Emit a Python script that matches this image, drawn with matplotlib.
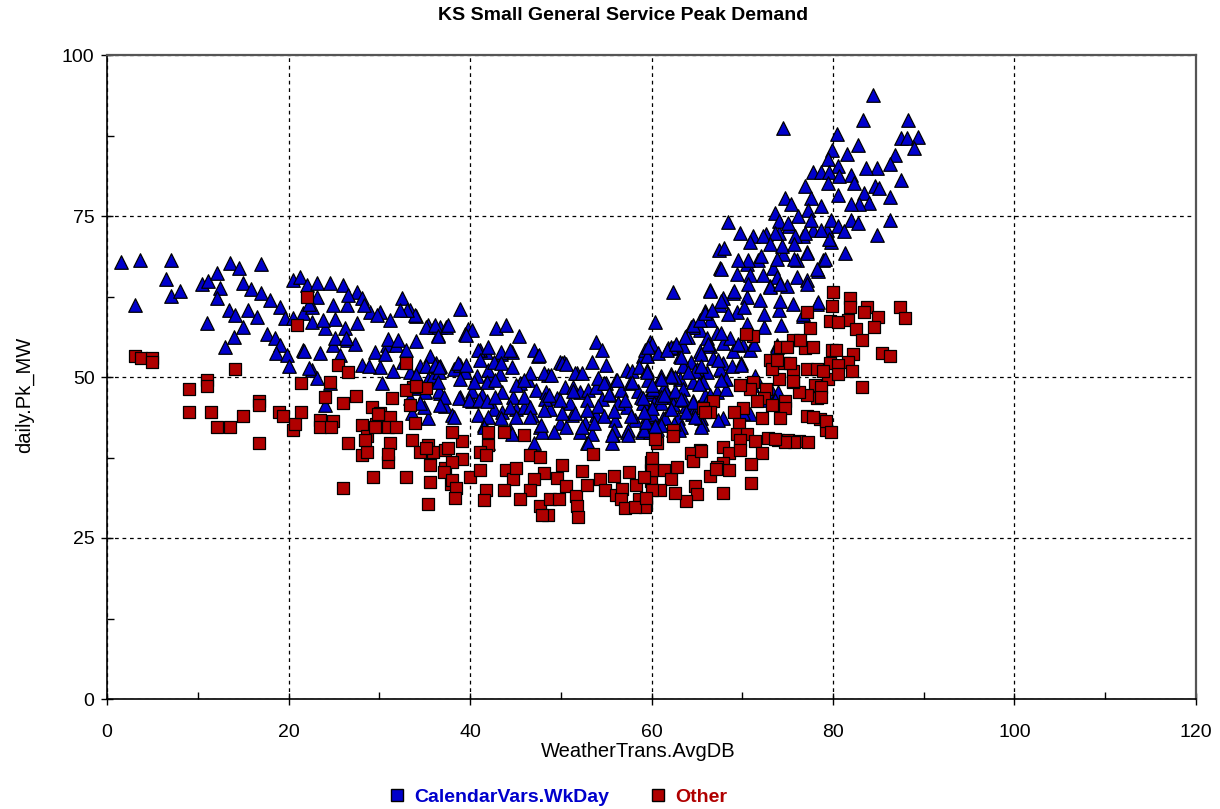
import matplotlib
matplotlib.use("Agg")
import matplotlib.pyplot as plt
from matplotlib.lines import Line2D
from matplotlib.ticker import MultipleLocator

plt.rcParams['font.family'] = ['Liberation Sans', 'DejaVu Sans']

title = "KS Small General Service Peak Demand"
x_label = "WeatherTrans.AvgDB"
y_label = "daily.Pk_MW"
series_names = ["CalendarVars.WkDay", "Other"]

wkday_pts = [
    (1.5,67.9),(3.6,68.1),(7.0,68.2),(6.5,65.2),(7.0,62.6),(8.0,63.4),(3.1,61.2),(11.0,58.4),
    (10.5,64.5),(11.1,64.9),(12.1,66.2),(12.4,63.8),(12.1,62.3),(13.5,67.7),(14.6,66.9),(17.0,67.5),
    (15.0,64.6),(15.9,63.7),(17.0,63.0),(18.0,62.0),(13.4,60.4),(14.1,59.6),(15.5,60.4),(16.5,59.3),
    (15.0,57.8),(14.0,56.2),(13.0,54.7),(17.6,56.7),(18.5,56.1),(19.1,55.0),(18.6,53.7),(19.8,53.4),
    (20.0,51.7),(19.1,60.9),(19.6,59.2),(20.5,65.1),(21.3,65.6),(22.0,64.3),(23.1,64.6),(24.6,64.6),
    (26.0,64.3),(23.1,62.4),(24.9,61.2),(26.4,61.2),(27.5,63.2),(28.1,62.3),(26.6,62.8),(21.6,59.9),
    (22.6,60.9),(20.5,59.2),(22.6,58.6),(24.0,57.6),(25.1,59.0),(26.2,57.6),(27.5,58.4),(29.0,60.1),
    (30.1,60.1),(31.2,58.8),(32.5,62.3),(33.4,60.4),(34.1,59.4),(35.4,58.1),(36.7,57.8),(23.5,53.7),
    (21.6,54.2),(24.9,55.0),(26.4,55.7),(27.3,55.2),(25.7,53.4),(22.6,51.1),(23.1,49.8),(24.6,49.0),
    (24.0,45.6),(29.5,53.9),(30.8,55.0),(31.9,55.0),(30.1,51.6),(28.1,51.9),(28.9,51.7),(30.3,49.0),
    (31.5,50.9),(32.6,52.4),(33.4,50.7),(34.5,51.7),(35.6,53.2),(36.7,51.7),(35.4,49.7),(33.4,46.7),
    (33.6,44.4),(35.4,43.6),(34.9,45.4),(36.7,47.5),(37.3,45.5),(33.9,48.3),(35.9,50.2),
    (38.9,60.5),(39.8,57.4),(39.5,56.6),(37.4,57.8),(36.5,56.5),(36.0,57.8),(35.2,57.8),(33.9,59.6),
    (33.1,60.4),(32.3,60.4),(29.7,59.6),(28.3,61.2),(22.3,61.4),(23.8,58.8),(25.1,56.0),(26.3,56.0),
    (21.7,54.0),(22.3,51.4),(30.6,53.6),(31.0,55.9),(32.1,55.7),(33.0,54.2),(34.0,55.6),(36.3,52.1),
    (35.1,51.7),(36.6,50.8),(38.2,51.3),(38.9,51.8),(39.5,50.8),(34.1,50.3),(35.0,47.7),(36.6,47.8),
    (34.5,45.9),(38.0,44.1),(38.9,46.9),(40.2,46.3),(40.2,47.8),
    (40.2,57.3),(42.9,57.6),(44.0,58.1),(45.4,56.3),(47.0,54.2),(47.5,53.3),(44.6,53.9),(41.8,53.9),
    (41.1,54.2),(43.4,53.5),(49.9,52.4),(50.4,52.4),(53.4,52.4),(53.9,55.5),(54.5,54.2),(55.0,51.8),
    (51.8,50.6),(48.6,50.3),(57.3,51.1),(57.9,51.0),(59.1,53.2),(59.8,55.5),(60.4,58.6),(59.3,54.2),
    (58.6,51.6),(40.8,50.2),(42.2,50.3),(43.3,50.5),(45.5,49.0),(46.4,49.5),(47.3,48.0),(48.4,47.6),
    (49.6,46.7),(50.5,48.5),(51.4,48.5),(52.1,47.6),(53.0,48.0),(53.9,48.5),(55.0,49.0),(55.4,47.2),
    (56.1,49.5),(56.6,48.0),(57.6,49.0),(58.5,47.8),(59.6,49.5),(60.1,47.4),(41.3,47.2),(42.6,45.1),
    (43.5,44.5),(41.5,42.6),(44.4,41.8),(45.1,45.0),(45.9,45.4),(46.8,44.1),(47.7,42.3),(47.0,39.7),
    (47.9,41.5),(48.8,45.0),(49.9,42.8),(50.6,42.3),(51.2,44.1),(52.1,41.5),(52.9,39.7),(53.4,41.2),
    (52.7,42.8),(53.9,44.1),(55.8,41.0),(55.6,39.7),(56.0,43.3),(57.3,41.5),(58.2,43.3),(59.0,41.5),
    (59.8,41.5),(60.2,43.8),(57.3,45.4),(56.3,45.9),(59.1,45.9),(43.5,47.7),(44.7,46.9),(51.0,45.9),
    (48.3,46.6),(54.6,46.6),(49.3,41.5),(42.0,39.7),
    (36.1,58.1),(37.6,58.1),(36.5,56.4),(39.6,56.5),(40.9,54.2),(42.0,54.7),(43.4,53.9),(44.4,54.2),
    (47.6,53.4),(36.1,51.9),(36.6,51.6),(38.7,52.1),(39.6,51.9),(41.1,52.6),(42.0,51.1),(42.6,52.4),
    (43.4,52.1),(44.6,51.6),(46.6,50.6),(48.2,50.6),(48.9,50.3),(36.5,49.3),(38.9,49.7),(40.4,49.3),
    (41.9,49.3),(42.8,49.5),(45.1,48.8),(46.0,49.5),(48.7,47.2),(37.1,46.9),(36.7,45.7),(38.8,46.7),
    (39.9,46.5),(41.0,46.5),(41.9,46.2),(42.8,46.9),(44.4,45.4),(46.0,46.9),(46.6,45.4),(48.1,44.9),
    (38.2,43.8),(40.9,44.1),(42.0,43.8),(43.4,43.6),(45.1,43.8),(46.6,43.8),(47.8,42.6),(41.5,42.3),
    (44.6,41.2),
    (50.1,52.1),(50.6,52.0),(59.5,53.2),(62.7,54.9),(51.6,50.6),(52.3,50.6),(54.1,49.8),(54.8,49.1),
    (56.2,49.5),(57.8,49.3),(59.5,51.1),(49.9,46.4),(51.3,47.8),(52.9,46.4),(54.1,45.5),(55.3,47.3),
    (57.1,46.4),(58.8,46.9),(59.9,47.9),(60.3,45.9),(61.4,48.4),(62.3,46.9),(50.1,44.4),(51.6,44.4),
    (52.9,44.9),(54.8,43.9),(55.9,44.7),(57.7,43.9),(59.5,43.9),(61.3,43.7),(52.3,42.3),(53.7,42.8),
    (55.9,41.8),(57.4,41.8),(59.2,41.8),(60.6,42.0),(62.4,41.8),(55.7,41.0),(57.4,41.0),(53.0,39.7),
    (68.4,74.1),(67.4,69.7),(62.4,63.2),(66.4,63.5),(67.5,66.9),(69.7,72.3),(71.2,71.9),(70.5,67.6),
    (71.7,68.1),(72.6,72.2),(74.1,72.4),(75.2,73.4),(76.7,71.9),(77.8,72.9),(79.3,72.8),(79.8,71.0),
    (78.9,68.1),(77.1,69.4),(76.0,68.1),(74.5,69.1),(73.4,67.0),(72.3,65.8),(70.8,65.8),(69.4,66.0),
    (69.0,63.0),(67.9,62.2),(70.5,62.5),(72.0,62.0),(73.1,64.1),(73.8,65.5),(74.9,64.1),(76.0,65.5),
    (77.1,65.0),(78.4,66.5),(78.2,61.4),(76.7,59.4),(75.6,61.4),(74.1,60.4),(74.3,58.0),(72.4,57.8),
    (70.5,58.3),(69.4,60.1),(67.5,61.2),(66.4,58.8),(65.3,57.3),(64.4,57.8),(63.8,56.3),(66.1,56.1),
    (67.9,55.3),(67.2,56.8),(68.7,56.1),(70.1,55.0),(70.9,54.2),(73.8,55.0),(69.0,54.0),(66.4,54.8),
    (65.3,54.0),(63.5,54.8),(62.4,54.5),(61.8,54.5),(63.1,53.2),(64.4,52.4),(66.8,52.9),(67.9,52.2),
    (69.9,52.2),(68.9,51.7),(67.5,51.2),(66.1,50.7),(65.0,51.2),(63.5,51.7),(62.1,50.4),(61.0,50.2),
    (59.5,50.7),(60.0,55.2),(59.6,54.7),(60.7,53.7),(63.1,49.7),(64.6,49.2),(65.7,49.2),(68.2,49.7),
    (71.4,50.2),(71.1,48.7),(67.2,47.7),(68.2,48.2),(63.5,48.2),(61.6,47.7),(60.2,48.2),(59.1,46.7),
    (61.0,46.0),(62.4,45.8),(63.8,45.5),(64.6,46.3),(65.9,47.2),(60.0,44.2),(61.5,43.7),(62.9,43.7),
    (64.5,44.2),(65.4,43.7),(65.6,42.7),(63.3,42.2),(61.1,42.5),(59.4,43.0),(67.9,43.7),(70.8,44.2),
    (73.3,47.7),(72.8,46.5),
    (84.4,93.8),(74.5,88.6),(83.3,89.9),(88.3,89.9),(80.4,87.8),(87.5,87.1),(88.1,87.1),(89.4,87.3),
    (88.9,85.5),(82.8,86.0),(79.9,85.2),(81.5,84.6),(86.8,84.5),(86.3,83.0),(84.9,82.5),(83.6,82.5),
    (82.0,81.4),(80.5,82.7),(79.4,83.8),(77.8,81.9),(78.7,81.9),(79.6,81.9),(80.7,81.2),(79.4,80.1),
    (80.5,78.3),(82.3,80.1),(83.4,78.6),(84.6,79.6),(85.1,79.3),(87.5,80.6),(86.3,78.0),(84.0,77.0),
    (76.9,79.6),(82.9,76.8),(82.0,76.8),(86.3,74.4),(84.8,72.0),(81.3,69.2),(74.7,77.8),(75.4,76.8),
    (77.6,77.8),(78.7,76.5),(77.2,76.0),(76.1,75.0),(73.6,75.5),(74.1,74.2),(75.0,73.9),(77.6,74.4),
    (79.8,74.4),(80.6,73.4),(82.0,74.4),(82.8,73.9),(81.2,72.6),(79.6,71.4),(78.7,72.9),(76.9,72.4),
    (75.8,71.9),(73.6,72.4),(72.3,71.9),(70.8,70.9),(68.0,70.1),(73.1,70.6),(74.4,70.3),(75.7,70.6),
    (77.1,69.3),(79.1,68.3),(78.2,66.8),(75.7,68.3),(73.8,68.3),(72.1,68.8),(70.6,68.1),(69.5,68.1),
    (67.7,66.8),(69.1,63.4),(66.5,63.4),(70.6,64.4),(73.1,63.9),(74.2,64.4),(77.1,64.4),(78.4,61.6),
    (76.7,59.8),(74.2,61.8),(70.2,60.8),(67.7,61.8),(65.9,60.3),(64.6,57.7),(68.4,59.8),(72.4,59.8),
    (67.7,56.8),(66.2,55.2),(69.5,55.2),(71.3,55.2),(73.8,54.7),(64.0,56.2),(62.2,54.7),(63.3,53.1),
    (65.5,53.6),(67.3,52.6),(69.9,51.8),(64.8,51.0),(62.6,50.0),(67.7,49.5),(65.2,48.9),(62.6,47.9),
    (73.9,47.7),(73.6,46.4),(61.1,46.9),(63.6,46.4),(65.1,45.4),(67.3,43.3),(70.1,44.4),(63.0,41.8),
    (65.4,42.3),
    (61.7,54.2),(62.7,55.2),(63.7,56.2),(64.6,58.1),(65.3,58.8),(65.9,59.9),(66.7,60.4),(65.5,51.7),
    (64.0,50.7),(62.2,50.2),(61.0,49.7),(60.0,48.7),(61.4,47.2),(63.2,46.6),(64.6,46.1),(66.5,47.2),
    (62.2,45.0),(63.8,44.6),(64.8,43.8),(60.1,45.2),(60.4,42.4),(62.5,42.7),(59.2,44.6),
]

other_pts = [
    (3.1,53.3),(3.8,52.9),(5.0,53.0),(5.0,52.4),(14.1,51.3),(9.0,48.2),(11.0,49.5),(11.0,48.6),
    (9.0,44.5),(11.5,44.5),(12.1,42.3),(13.6,42.3),(15.0,43.9),(16.7,46.3),(16.7,45.6),(16.7,39.7),
    (19.0,44.6),(19.4,43.9),(20.5,41.8),(20.7,42.7),(21.4,44.5),(22.0,62.5),(20.9,58.1),(21.4,49.1),
    (23.5,43.3),(23.5,42.3),(24.9,43.2),(24.7,42.3),(24.0,46.9),(24.6,49.3),(26.0,46.0),(27.4,47.0),
    (25.5,51.9),(26.6,50.8),(26.6,39.7),(28.1,42.5),(28.6,40.8),(28.1,37.9),(28.6,38.3),(26.0,32.7),
    (29.2,45.4),(30.1,44.4),(29.6,42.7),(31.2,43.8),(31.4,46.7),(31.0,42.2),(31.9,42.2),(31.2,39.7),
    (31.0,36.8),(29.3,34.5),(33.0,34.5),(33.6,40.2),(33.9,42.8),(33.4,45.6),(33.7,48.5),(34.5,38.3),
    (35.4,39.5),(35.9,38.3),(35.6,36.3),(35.6,33.7),(35.4,30.3),(37.3,35.8),(37.3,38.7),(37.9,33.4),
    (33.0,52.1),(35.2,48.3),(29.9,44.2),(29.5,42.3),(28.4,40.2),(31.0,38.1),(33.0,48.0),(34.1,48.6),
    (35.2,38.9),(37.6,38.9),(39.1,40.0),(39.1,37.3),(38.0,41.5),(38.0,36.8),(37.1,35.3),(38.0,34.0),
    (38.5,32.7),(38.4,31.2),
    (42.0,41.5),(43.7,41.5),(45.9,41.0),(42.0,39.5),(41.1,38.4),(41.8,37.9),(40.0,34.5),(41.1,35.6),
    (41.8,32.5),(41.5,30.9),(44.0,35.6),(44.7,34.1),(43.8,32.5),(45.1,35.9),(46.6,37.9),(47.7,37.6),
    (48.1,35.1),(47.0,34.1),(46.6,32.5),(45.5,31.0),(47.7,29.9),(48.6,28.6),(47.9,28.6),(48.8,31.0),
    (49.8,31.0),(50.1,36.3),(49.6,34.3),(50.6,33.1),(51.7,31.5),(51.8,30.0),(51.9,28.3),(52.3,35.4),
    (52.9,33.3),(53.6,38.1),(54.3,34.1),(54.9,32.5),(55.9,34.6),(56.1,31.7),(56.8,32.6),(57.5,35.2),
    (56.6,31.0),(57.1,29.6),(58.3,33.3),(58.6,31.0),(59.4,30.5),(59.9,33.8),(59.9,35.5),(59.9,36.8),
    (60.6,39.7),(59.3,29.8),(58.2,29.8),
    (80.0,63.2),(79.9,61.0),(79.7,58.7),(77.1,60.1),(77.5,57.6),(75.6,55.8),(76.9,54.5),(71.2,56.3),
    (74.2,54.7),(73.1,52.7),(74.6,52.2),(75.6,51.0),(77.1,51.2),(78.2,51.2),(79.7,52.2),(79.9,54.2),
    (79.5,49.7),(78.0,48.7),(78.2,46.7),(77.1,47.2),(76.3,47.7),(75.6,49.2),(74.1,49.7),(73.3,51.2),
    (72.6,48.2),(72.4,46.7),(71.2,49.2),(70.8,48.2),(69.8,48.7),(71.6,46.2),(73.3,45.7),(74.7,46.2),
    (74.7,45.2),(70.1,45.2),(69.1,44.5),(72.2,43.7),(74.2,43.7),(77.1,44.0),(78.6,43.5),(79.2,41.7),
    (69.6,42.7),(69.4,41.2),(70.5,41.2),(71.4,40.0),(72.8,40.5),(73.9,40.2),(75.0,40.2),(76.2,40.0),
    (69.8,40.2),(67.9,39.2),(68.5,38.2),(69.8,38.7),(72.2,38.2),(71.0,36.5),(71.0,33.6),(67.9,36.7),
    (67.2,36.0),(66.4,34.7),(68.5,35.5),(65.3,38.7),(64.6,37.2),(64.4,38.2),(64.8,33.1),(65.0,31.8),
    (63.8,30.7),(67.9,32.0),(66.8,46.2),(65.7,45.2),(62.4,41.7),(60.4,40.4),(60.1,37.5),(60.1,35.5),
    (59.2,34.5),(61.4,35.5),(62.1,34.1),(62.8,36.1),(62.6,32.0),(60.9,32.5),(60.0,32.5),(59.4,31.2),
    (81.9,62.2),(81.9,60.9),(83.8,60.9),(83.4,60.1),(85.0,59.3),(87.4,60.9),(87.9,59.1),(81.7,58.8),
    (80.5,58.5),(82.5,57.5),(84.5,57.8),(83.2,55.7),(82.2,53.6),(85.4,53.7),(86.3,53.2),(80.3,54.2),
    (81.7,52.3),(80.5,51.8),(80.5,50.5),(82.1,51.0),(83.2,48.4),(78.9,51.0),(77.8,54.7),(76.4,55.7),
    (74.9,54.7),(73.8,52.6),(75.3,52.1),(75.6,49.4),(78.7,48.4),(78.7,46.9),(77.8,43.8),(79.2,43.2),
    (79.8,41.4),(70.4,56.7),(77.2,39.9),(75.7,39.9),(74.7,39.9),(73.6,40.4),
    (62.4,40.9),(64.6,37.0),(65.5,38.5),(66.5,44.6),(65.9,44.6),(67.1,35.7),
]

wk_x = [p[0] for p in wkday_pts]
wk_y = [p[1] for p in wkday_pts]
ot_x = [p[0] for p in other_pts]
ot_y = [p[1] for p in other_pts]

blue = '#0000CC'
red = '#B00000'

fig = plt.figure(figsize=(12.2, 8.09), dpi=100)
ax = fig.add_axes([107/1220, 1-699/809, (1196-107)/1220, (699-55)/809])

ax.scatter(wk_x, wk_y, marker='^', s=95, c=blue, edgecolors='black', linewidths=0.9, zorder=3)
ax.scatter(ot_x, ot_y, marker='s', s=80, c=red, edgecolors='black', linewidths=0.9, zorder=3)

ax.set_xlim(0, 120)
ax.set_ylim(0, 100)
ax.xaxis.set_major_locator(MultipleLocator(20))
ax.xaxis.set_minor_locator(MultipleLocator(10))
ax.yaxis.set_major_locator(MultipleLocator(25))
ax.yaxis.set_minor_locator(MultipleLocator(12.5))
ax.tick_params(which='major', direction='inout', length=8, width=1, labelsize=14, pad=5)
ax.tick_params(which='minor', direction='in', length=5, width=1)
ax.tick_params(axis='x', pad=14)
ax.grid(True, which='major', color='black', linestyle=(0, (3, 3)), linewidth=0.9)
ax.set_axisbelow(True)

for side in ['left', 'bottom']:
    ax.spines[side].set_color('black')
    ax.spines[side].set_linewidth(1.2)
for side in ['top', 'right']:
    ax.spines[side].set_color('#555555')
    ax.spines[side].set_linewidth(1.6)

ax.set_xlabel(x_label, fontsize=14.5, labelpad=1, x=(638-107)/1089)
ax.set_ylabel(y_label, fontsize=14.5, labelpad=20, y=(699-395)/644)
fig.text(623/1220, 1 - 16/809, title, ha='center', va='center',
         fontsize=14, fontweight='bold')

handles = [
    Line2D([], [], marker='s', linestyle='none', markersize=9, markerfacecolor=blue, markeredgecolor='black'),
    Line2D([], [], marker='s', linestyle='none', markersize=9, markerfacecolor=red, markeredgecolor='black'),
]
leg = fig.legend(handles, series_names, loc='center', bbox_to_anchor=(557/1220, 1 - 797/809), ncol=2,
                 frameon=False, handletextpad=0.4, columnspacing=2.0, handlelength=1.0,
                 prop={'weight': 'bold', 'size': 14})
for t, col in zip(leg.get_texts(), [blue, red]):
    t.set_color(col)

fig.savefig('out.png', dpi=100)
